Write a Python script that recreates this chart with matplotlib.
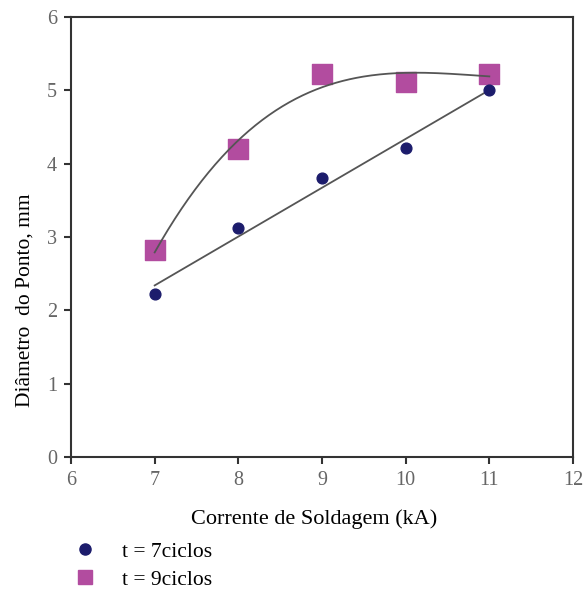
import numpy as np
import matplotlib
matplotlib.use('Agg')
import matplotlib.pyplot as plt
from matplotlib.lines import Line2D

# data
corrente = [7, 8, 9, 10, 11]
diam_7ciclos = [2.22, 3.12, 3.80, 4.22, 5.00]
diam_9ciclos = [2.82, 4.20, 5.22, 5.12, 5.22]

plt.rcParams['font.family'] = ['Liberation Serif', 'DejaVu Serif']

fig = plt.figure(figsize=(5.83, 5.95), dpi=100)
ax = fig.add_axes([0.1218, 0.2319, 0.861, 0.7395])

# trend lines (linear for 7 ciclos, polynomial for 9 ciclos)
xs = np.linspace(7, 11, 200)
lin = np.polyfit(corrente, diam_7ciclos, 1)
pol = np.polyfit(corrente, diam_9ciclos, 3)
ax.plot(xs, np.polyval(lin, xs), color='#555555', lw=1.3, zorder=2)
ax.plot(xs, np.polyval(pol, xs), color='#555555', lw=1.3, zorder=2)

ax.scatter(corrente, diam_7ciclos, marker='o', s=60, color='#1c1c6c', zorder=3)
ax.scatter(corrente, diam_9ciclos, marker='s', s=220, color='#b24c9f', zorder=1)

ax.set_xlim(6, 12)
ax.set_ylim(0, 6)
ax.set_xticks(range(6, 13))
ax.set_yticks(range(0, 7))
ax.tick_params(direction='out', length=5, width=1.5, colors='#333333',
               labelcolor='#666666', labelsize=14.5, pad=5)
for s in ax.spines.values():
    s.set_color('#333333')
    s.set_linewidth(1.5)

ax.set_xlabel('Corrente de Soldagem (kA)', fontsize=16)
ax.xaxis.set_label_coords(0.484, -0.119)
ax.set_ylabel('Diâmetro  do Ponto, mm', fontsize=15.5)
ax.yaxis.set_label_coords(-0.072, 0.357)

h1 = Line2D([], [], ls='none', marker='o', ms=8, color='#1c1c6c')
h2 = Line2D([], [], ls='none', marker='s', ms=10, color='#b24c9f')
fig.legend(handles=[h1, h2], labels=['t = 7ciclos', 't = 9ciclos'],
           loc='upper left', bbox_to_anchor=(0.128, 0.09),
           frameon=False, fontsize=15.5, handletextpad=1.2, labelspacing=0.38,
           borderaxespad=0, borderpad=0, handlelength=1.0)

fig.savefig('out.png', dpi=100)
